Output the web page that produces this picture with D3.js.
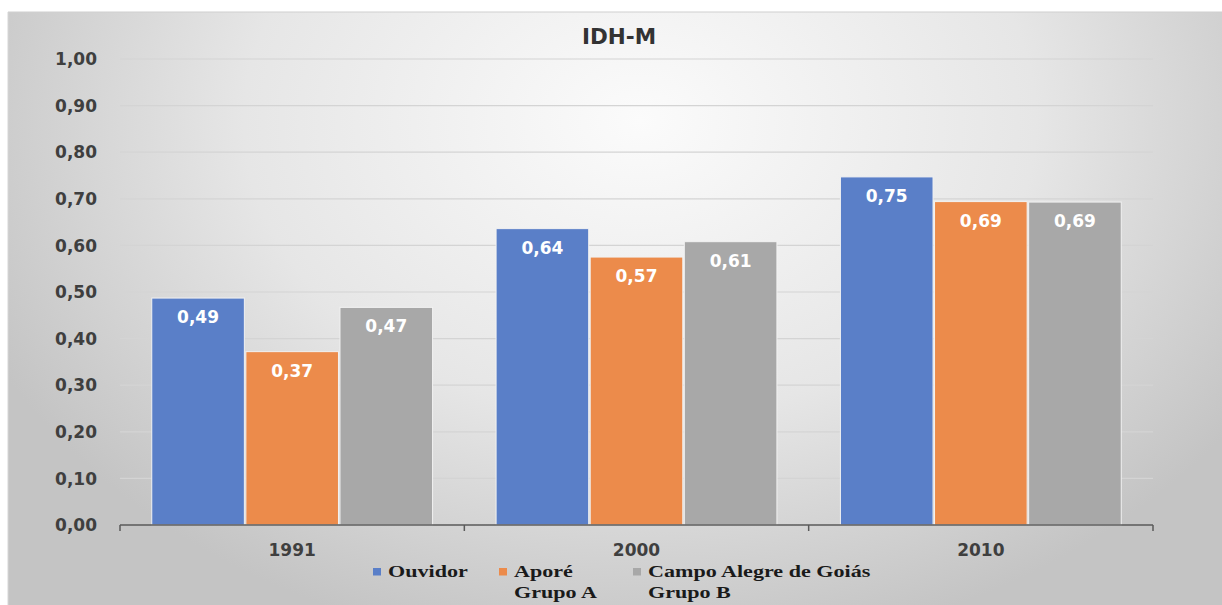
<!DOCTYPE html>
<html><head><meta charset="utf-8">
<script src="https://cdn.jsdelivr.net/npm/d3@7"></script>
<style>body{margin:0;background:#fff}svg{display:block}</style>
</head><body><svg id="c" width="1222" height="605"></svg>
<script>
const categories = ["1991", "2000", "2010"];
const seriesNames = ["Ouvidor", "Aporé\nGrupo A", "Campo Alegre de Goiás\nGrupo B"];
const ouvidor = [0.487, 0.636, 0.747];
const apore = [0.372, 0.575, 0.694];
const campo = [0.467, 0.608, 0.693];
const yTicks = [0, 0.1, 0.2, 0.3, 0.4, 0.5, 0.6, 0.7, 0.8, 0.9, 1.0];
const colors = ["#5a7fc8", "#ec8b4b", "#a8a8a8"];
const seriesValues = [ouvidor, apore, campo];
const FONT = "'DejaVu Sans', sans-serif";

const svg = d3.select("#c");
const defs = svg.append("defs");
const g1 = defs.append("radialGradient").attr("id","bg").attr("gradientUnits","userSpaceOnUse")
  .attr("cx",640).attr("cy",120).attr("r",720).attr("gradientTransform","translate(640,120) scale(1,0.75) translate(-640,-120)");
g1.append("stop").attr("offset","0").attr("stop-color","#fbfbfb");
g1.append("stop").attr("offset","0.55").attr("stop-color","#e6e6e6");
g1.append("stop").attr("offset","1").attr("stop-color","#c4c4c4");
svg.append("rect").attr("x",8).attr("y",12).attr("width",1214).attr("height",593).attr("fill","url(#bg)");
svg.append("line").attr("x1",8).attr("x2",1222).attr("y1",12).attr("y2",12).attr("stroke","#cfcfcf").attr("stroke-width",1);
svg.append("line").attr("x1",8).attr("x2",8).attr("y1",12).attr("y2",605).attr("stroke","#d6d6d6").attr("stroke-width",1);

const L=120,R=1153,T=59,B=525;
const x = d3.scaleBand().domain(categories).range([L,R]).paddingInner(0).paddingOuter(0);
const y = d3.scaleLinear().domain([0,1]).range([B,T]);
const inner = d3.scaleBand().domain([0,1,2]).range([31, x.bandwidth()-31]).padding(0.0);
const fmt = d => d3.format(".2f")(d).replace(".",",");

// gridlines
svg.append("g").selectAll("line").data(yTicks.filter(d=>d>0)).join("line")
  .attr("x1",L).attr("x2",R).attr("y1",d=>y(d)).attr("y2",d=>y(d))
  .attr("stroke","#d4d4d4").attr("stroke-width",1.2);

// y labels
svg.append("g").selectAll("text").data(yTicks).join("text")
  .attr("x",97).attr("y",d=>y(d)).attr("dy","0.36em").attr("text-anchor","end")
  .attr("font-family",FONT).attr("font-weight","bold").attr("font-size",17)
  .attr("fill","#3f3f3f").text(fmt);

// bars
const bars = [];
categories.forEach((c,i)=>seriesValues.forEach((s,j)=>bars.push({c,j,v:s[i]})));
svg.append("g").selectAll("rect").data(bars).join("rect")
  .attr("x",d=>x(d.c)+inner(d.j)+0.75).attr("width",inner.bandwidth()-1.5)
  .attr("y",d=>y(d.v)).attr("height",d=>B-y(d.v))
  .attr("fill",d=>colors[d.j]).attr("stroke","#f2f2f2").attr("stroke-width",1);

svg.append("g").selectAll("text").data(bars).join("text")
  .attr("x",d=>x(d.c)+inner(d.j)+inner.bandwidth()/2).attr("y",d=>y(d.v)+19).attr("dy","0.36em")
  .attr("text-anchor","middle").attr("font-family",FONT).attr("font-weight","bold")
  .attr("font-size",17).attr("fill","#ffffff").text(d=>fmt(d.v));

// x axis
const xa = svg.append("g");
xa.append("line").attr("x1",L).attr("x2",R).attr("y1",B).attr("y2",B).attr("stroke","#5a5a5a").attr("stroke-width",1.5);
xa.selectAll("line.t").data([...categories.map(c=>x(c)), R]).join("line").attr("class","t")
  .attr("x1",d=>d).attr("x2",d=>d).attr("y1",B).attr("y2",B+6).attr("stroke","#5a5a5a").attr("stroke-width",1.5);
xa.selectAll("text").data(categories).join("text")
  .attr("x",d=>x(d)+x.bandwidth()/2).attr("y",550).attr("dy","0.36em").attr("text-anchor","middle")
  .attr("font-family",FONT).attr("font-weight","bold").attr("font-size",17)
  .attr("fill","#3f3f3f").text(d=>d);

// title
svg.append("text").attr("x",619).attr("y",36).attr("dy","0.36em").attr("text-anchor","middle")
  .attr("font-family",FONT).attr("font-weight","bold").attr("font-size",21.5)
  .attr("fill","#333").text("IDH-M");

// legend
const legX = [373, 499, 633];
const lg = svg.append("g").selectAll("g").data(seriesNames).join("g").attr("transform",(d,i)=>`translate(${legX[i]},0)`);
lg.append("rect").attr("x",0).attr("y",568).attr("width",8).attr("height",7.5).attr("fill",(d,i)=>colors[i]);
lg.each(function(d){
  const t = d3.select(this).append("text").attr("font-family","'Liberation Serif', serif").attr("font-weight","bold")
    .attr("font-size",17).attr("fill","#1a1a1a").attr("transform","translate(15,0) scale(1.3,1)");
  d.split("\n").forEach((line,k)=>t.append("tspan").attr("x",0).attr("y",577+k*21).text(line));
});
</script></body></html>
